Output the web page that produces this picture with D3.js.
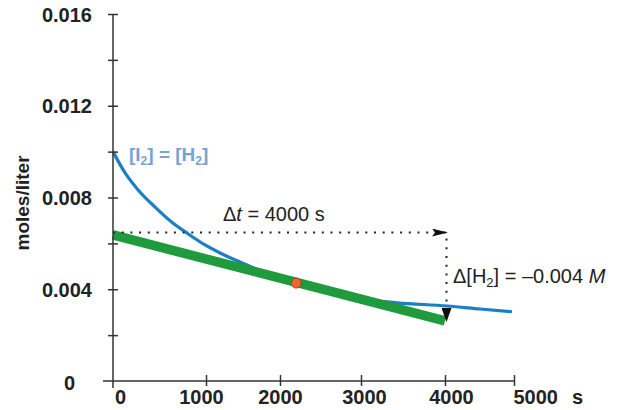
<!DOCTYPE html>
<html>
<head>
  <meta charset="utf-8">
  <script src="https://cdn.jsdelivr.net/npm/d3@7"></script>
  <style>
    body { margin: 0; background: #fff; }
    text { font-family: "Liberation Sans", Arial, sans-serif; }
    .tick text { font-size: 20px; font-weight: bold; fill: #222; }
  </style>
</head>
<body>
  <svg id="chart" width="617" height="410"></svg>

  <script>
    // time (s) and concentration (moles/liter)
    var curveT = [0, 130, 270, 450, 630, 810, 990, 1190, 1460, 1800, 2200, 2600, 3030, 3430, 4030, 4510, 4970];
    var curveC = [0.0100, 0.00907, 0.00833, 0.00759, 0.00693, 0.00641, 0.00593, 0.00558, 0.00519, 0.00472, 0.00430, 0.00392, 0.00356, 0.00341, 0.00327, 0.00314, 0.00302];

    // tangent line at t = 2200 s
    var tangentT = [0, 4000];
    var tangentC = [0.00637, 0.00262];
    var pointT = 2200, pointC = 0.00427;

    // delta annotation
    var deltaT = [0, 4000];
    var deltaC = [0.00647, 0.00257];

    var xTicks = [0, 1000, 2000, 3000, 4000, 5000];
    var yTicks = [0, 0.002, 0.004, 0.006, 0.008, 0.010, 0.012, 0.014, 0.016];
    var yLabels = [0, 0.004, 0.008, 0.012, 0.016];

    var svg = d3.select('#chart');

    // the x ticks in the original are not evenly spaced
    var x = d3.scaleLinear()
      .domain(xTicks)
      .range([113, 206, 280, 361, 445, 514]);

    var y = d3.scaleLinear()
      .domain([0, 0.016])
      .range([381, 14]);

    //blue curve
    var line = d3.line()
      .x(d => x(d[0]))
      .y(d => y(d[1]))
      .curve(d3.curveMonotoneX);

    svg.append('path')
      .datum(d3.zip(curveT, curveC))
      .attr('fill', 'none')
      .attr('stroke', '#1c7fc6')
      .attr('stroke-width', 3.2)
      .attr('d', line);

    //green tangent
    svg.append('path')
      .datum(d3.zip(tangentT, tangentC))
      .attr('fill', 'none')
      .attr('stroke', '#1f9a3c')
      .attr('stroke-width', 9.5)
      .attr('d', d3.line().x(d => x(d[0])).y(d => y(d[1])));

    svg.append('circle')
      .attr('cx', x(pointT))
      .attr('cy', y(pointC))
      .attr('r', 5)
      .attr('fill', '#ef6431')
      .attr('stroke', '#a8401c')
      .attr('stroke-width', 1);

    //dotted arrows
    var defs = svg.append('defs');
    defs.append('marker')
      .attr('id', 'arrow')
      .attr('viewBox', '0 0 16 8')
      .attr('refX', 16).attr('refY', 4)
      .attr('markerWidth', 16).attr('markerHeight', 8)
      .attr('markerUnits', 'userSpaceOnUse')
      .attr('orient', 'auto')
      .append('path')
      .attr('d', 'M0,0 L16,4 L0,8 L3,4 Z')
      .attr('fill', '#111');
    defs.append('marker')
      .attr('id', 'arrow2')
      .attr('viewBox', '0 0 14 10')
      .attr('refX', 14).attr('refY', 5)
      .attr('markerWidth', 14).attr('markerHeight', 10)
      .attr('markerUnits', 'userSpaceOnUse')
      .attr('orient', 'auto')
      .append('path')
      .attr('d', 'M0,0 L14,5 L0,10 Z')
      .attr('fill', '#111');

    svg.append('line')
      .attr('x1', x(deltaT[0])).attr('y1', y(deltaC[0]))
      .attr('x2', x(deltaT[1]) + 3).attr('y2', y(deltaC[0]))
      .attr('stroke', '#222')
      .attr('stroke-width', 2)
      .attr('stroke-dasharray', '2,6.7')
      .attr('marker-end', 'url(#arrow)');

    svg.append('line')
      .attr('x1', x(deltaT[1]) + 1.5).attr('y1', y(deltaC[0]) + 6)
      .attr('x2', x(deltaT[1]) + 1.5).attr('y2', y(deltaC[1]))
      .attr('stroke', '#222')
      .attr('stroke-width', 2)
      .attr('stroke-dasharray', '2,6.7')
      .attr('marker-end', 'url(#arrow2)');

    //axes
    var yAxis = svg.append('g')
      .attr('transform', 'translate(' + x(0) + ',0)')
      .call(d3.axisLeft(y).tickValues(yTicks).tickSize(5).tickPadding(16)
        .tickFormat(d => yLabels.some(v => Math.abs(v - d) < 1e-9) ? (d == 0 ? '0' : d3.format('.3f')(d)) : ''));
    yAxis.select('.domain').remove();
    yAxis.selectAll('.tick line').attr('x1', 5).attr('stroke', '#333').attr('stroke-width', 1.5);
    yAxis.selectAll('.tick text').attr('dy', '0.36em');
    yAxis.selectAll('.tick').filter(d => d == 0).select('text').attr('x', -38).attr('dy', '0.4em');
    yAxis.selectAll('.tick').filter(d => d == 0).select('line').remove();

    var xAxis = svg.append('g')
      .attr('transform', 'translate(0,' + y(0) + ')')
      .call(d3.axisBottom(x).tickValues(xTicks).tickSize(5).tickPadding(4).tickFormat(d3.format('d')));
    xAxis.select('.domain').remove();
    xAxis.selectAll('.tick line').attr('y1', -6).attr('stroke', '#333').attr('stroke-width', 1.5);
    xAxis.selectAll('.tick').filter(d => d == 0).select('line').remove();
    xAxis.selectAll('.tick').filter(d => d == 0).select('text').attr('x', 7);
    xAxis.selectAll('.tick').filter(d => d == 1000).select('text').attr('x', -5);
    xAxis.selectAll('.tick').filter(d => d == 3000).select('text').attr('x', 3);
    xAxis.selectAll('.tick').filter(d => d == 4000).select('text').attr('x', 6);
    xAxis.selectAll('.tick').filter(d => d == 5000).select('text').attr('text-anchor', 'start').attr('x', -1);

    svg.append('line')
      .attr('x1', x(0)).attr('x2', x(0))
      .attr('y1', y(0.016)).attr('y2', y(0) + 7)
      .attr('stroke', '#333').attr('stroke-width', 1.5);
    svg.append('line')
      .attr('x1', x(0) - 10).attr('x2', x(5000))
      .attr('y1', y(0)).attr('y2', y(0))
      .attr('stroke', '#333').attr('stroke-width', 1.5);

    svg.append('text')
      .attr('x', 572).attr('y', y(0) + 23)
      .attr('font-size', 20).attr('font-weight', 'bold').attr('fill', '#222')
      .text('s');

    svg.append('text')
      .attr('transform', 'translate(29,' + 203 + ') rotate(-90)')
      .attr('text-anchor', 'middle')
      .attr('font-size', 19).attr('font-weight', 'bold').attr('fill', '#222')
      .text('moles/liter');

    //labels
    var lbl = svg.append('text')
      .attr('x', 129).attr('y', 161)
      .attr('font-size', 19).attr('font-weight', 'bold').attr('fill', '#78a2d6');
    lbl.append('tspan').text('[I');
    lbl.append('tspan').attr('font-size', 12).attr('dy', 4).text('2');
    lbl.append('tspan').attr('dy', -4).text('] = [H');
    lbl.append('tspan').attr('font-size', 12).attr('dy', 4).text('2');
    lbl.append('tspan').attr('dy', -4).text(']');

    var dt = svg.append('text')
      .attr('x', 223).attr('y', 221)
      .attr('font-size', 20).attr('fill', '#222');
    dt.append('tspan').text('Δ');
    dt.append('tspan').attr('font-style', 'italic').text('t');
    dt.append('tspan').text(' = 4000 s');

    var dh = svg.append('text')
      .attr('x', 453).attr('y', 283)
      .attr('font-size', 20).attr('fill', '#222');
    dh.append('tspan').text('Δ[H');
    dh.append('tspan').attr('font-size', 13).attr('dy', 4).text('2');
    dh.append('tspan').attr('dy', -4).text('] = –0.004 ');
    dh.append('tspan').attr('font-style', 'italic').text('M');
  </script>
</body>
</html>
